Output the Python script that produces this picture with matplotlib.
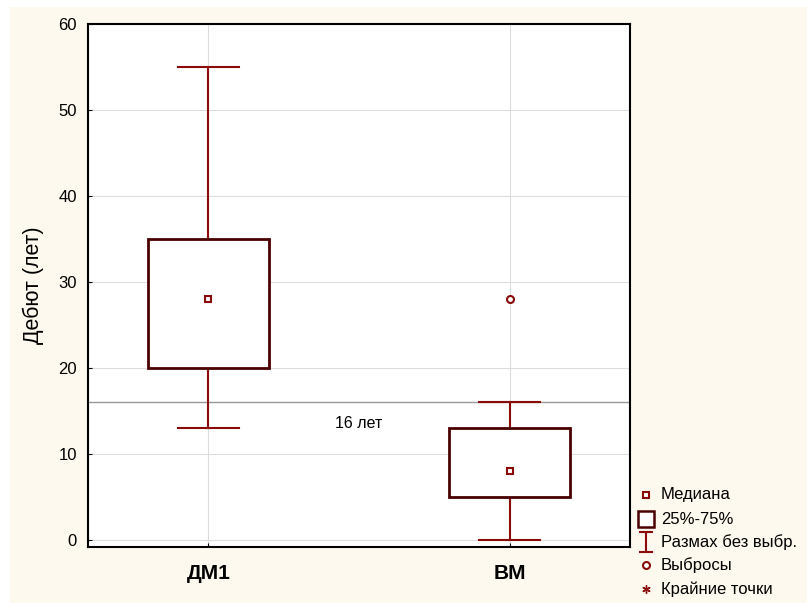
import matplotlib
matplotlib.use("Agg")
import matplotlib.pyplot as plt
from matplotlib.patches import Rectangle
from matplotlib.lines import Line2D
from matplotlib.path import Path

plt.rcParams['font.family'] = ['Liberation Sans', 'DejaVu Sans']

categories = ["ДМ1", "ВМ"]
medians = [28, 8]
q1 = [20, 5]
q3 = [35, 13]
whisk_lo = [13, 0]
whisk_hi = [55, 16]
outliers = [[], [28]]
ref_value = 16
ref_label = "16 лет"
yticks = [0, 10, 20, 30, 40, 50, 60]
legend_labels = ["Медиана", "25%-75%", "Размах без выбр.", "Выбросы", "Крайние точки"]

BOX_C = "#4a0000"
WH_C = "#8b0a0a"
CREAM = "#fdf9ef"

fig = plt.figure(figsize=(8.07, 6.03), dpi=100)
fig.patch.set_facecolor("white")
fig.patches.append(Rectangle((10/807, 0), 1, 1 - 7/603, transform=fig.transFigure,
                             facecolor=CREAM, edgecolor="none", zorder=-10))

ax = fig.add_axes([88/807, 1 - 547/603, (630-88)/807, (547-24)/603])
ax.set_facecolor("white")
ax.set_xlim(0.6, 2.4)
ax.set_ylim(-0.8, 60)

positions = [1, 2]
bw = 0.4
cw = 0.2
for i, x in enumerate(positions):
    ax.plot([x, x], [whisk_lo[i], q1[i]], color=WH_C, lw=1.5, zorder=3)
    ax.plot([x, x], [q3[i], whisk_hi[i]], color=WH_C, lw=1.5, zorder=3)
    ax.plot([x - cw/2, x + cw/2], [whisk_lo[i]]*2, color=WH_C, lw=1.5, zorder=3)
    ax.plot([x - cw/2, x + cw/2], [whisk_hi[i]]*2, color=WH_C, lw=1.5, zorder=3)
    ax.add_patch(Rectangle((x - bw/2, q1[i]), bw, q3[i] - q1[i], facecolor="white",
                           edgecolor=BOX_C, lw=2, zorder=4))
    ax.plot([x], [medians[i]], marker="s", ms=5, mfc="white", mec=WH_C, mew=1.5, zorder=5)
    for o in outliers[i]:
        ax.plot([x], [o], marker="o", ms=5, mfc="white", mec=WH_C, mew=1.5, zorder=5)

ax.axhline(ref_value, color="#999999", lw=1, zorder=2)
ax.text(1.5, 13.5, ref_label, ha="center", va="center", fontsize=11.5)

ax.set_yticks(yticks)
ax.set_xticks(positions)
ax.set_xticklabels(categories, fontsize=15, fontweight="bold")
ax.tick_params(axis="y", direction="in", length=3, labelsize=12, pad=8)
ax.tick_params(axis="x", direction="in", length=3, pad=12)
ax.grid(True, color="#dddddd", lw=0.8, zorder=0)
ax.set_axisbelow(True)
for s in ax.spines.values():
    s.set_color("black")
    s.set_linewidth(1.5)
ax.set_ylabel("Дебют (лет)", fontsize=15.5, labelpad=10)

# legend (manual)
ys = [495, 519, 542, 565, 589]
mx = 646/807
tx = 661/807
ipath = Path([(-0.7, -1), (0.7, -1), (0, -1), (0, 1), (-0.7, 1), (0.7, 1)],
             [Path.MOVETO, Path.LINETO, Path.MOVETO, Path.LINETO, Path.MOVETO, Path.LINETO])
styles = [dict(marker="s", ms=5, mfc="white", mec=WH_C, mew=1.5),
          dict(marker="s", ms=12, mfc="white", mec=BOX_C, mew=1.8),
          dict(marker=ipath, ms=14, mfc="none", mec=WH_C, mew=1.5),
          dict(marker="o", ms=5, mfc="white", mec=WH_C, mew=1.5),
          dict(marker=(6, 2, 0), ms=6, mec=WH_C, mew=1)]
for y, lab, st in zip(ys, legend_labels, styles):
    yf = 1 - y/603
    fig.add_artist(Line2D([mx], [yf], transform=fig.transFigure, linestyle="none", **st))
    fig.text(tx, yf, lab, ha="left", va="center", fontsize=12)

fig.savefig("out.png", dpi=100, facecolor=fig.get_facecolor())
